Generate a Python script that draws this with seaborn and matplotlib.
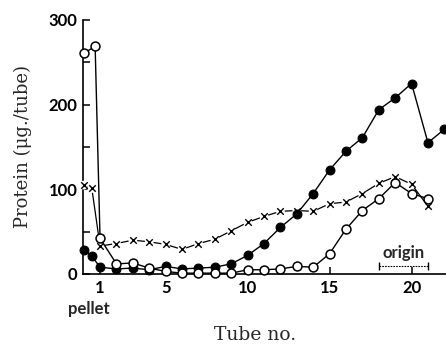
import matplotlib
matplotlib.use("Agg")
import matplotlib.pyplot as plt
import seaborn as sns
import pandas as pd
from matplotlib.ticker import MultipleLocator

# ---- data ----
filled_tube = [0, 0.5, 1, 2, 3, 4, 5, 6, 7, 8, 9, 10, 11, 12, 13, 14, 15, 16, 17, 18, 19, 20, 21, 22]
filled_protein = [28, 21, 8, 6, 7, 5, 9, 6, 7, 8, 12, 22, 36, 55, 71, 95, 123, 145, 161, 194, 208, 225, 155, 171]

open_tube = [0.05, 0.7, 1, 2, 3, 4, 5, 6, 7, 8, 9, 10, 11, 12, 13, 14, 15, 16, 17, 18, 19, 20, 21]
open_protein = [261, 269, 42, 12, 13, 7, 3, 1, 1, 1, 1, 5, 5, 6, 9, 8, 24, 53, 75, 89, 108, 95, 89]

cross_tube = [0, 0.5, 1, 2, 3, 4, 5, 6, 7, 8, 9, 10, 11, 12, 13, 14, 15, 16, 17, 18, 19, 20, 21]
cross_protein = [105, 101, 33, 36, 40, 38, 35, 29, 36, 41, 51, 61, 68, 74, 75, 74, 83, 85, 95, 107, 115, 106, 80]

x_ticks = [1, 5, 10, 15, 20]
y_ticks = [0, 100, 200, 300]
origin_span = [18, 21]
origin_level = [9.4, 9.4]

sns.set_style("ticks")
plt.rcParams['font.family'] = ['Lato', 'DejaVu Sans']

fig = plt.figure(figsize=(4.46, 3.5), dpi=100)
ax = fig.add_axes([83 / 446, 76 / 350, 363 / 446, 254 / 350])

filled_df = pd.DataFrame({"tube": filled_tube, "protein": filled_protein})
open_df = pd.DataFrame({"tube": open_tube, "protein": open_protein})
cross_df = pd.DataFrame({"tube": cross_tube, "protein": cross_protein})

# crosses: line, white gaps, x markers
sns.lineplot(data=cross_df, x="tube", y="protein", ax=ax, sort=False, estimator=None,
             color="black", lw=0.9, clip_on=False, zorder=2)
sns.scatterplot(data=cross_df, x="tube", y="protein", ax=ax, color="white", s=40,
                edgecolor="none", clip_on=False, zorder=3)
sns.scatterplot(data=cross_df, x="tube", y="protein", ax=ax, color="black", marker="x",
                s=22, linewidth=1.0, clip_on=False, zorder=4)

# filled circles
sns.lineplot(data=filled_df, x="tube", y="protein", ax=ax, sort=False, estimator=None,
             color="black", lw=1.0, marker="o", markersize=6.4, markerfacecolor="black",
             markeredgecolor="black", clip_on=False, zorder=5)

# open circles
sns.lineplot(data=open_df, x="tube", y="protein", ax=ax, sort=False, estimator=None,
             color="black", lw=1.0, marker="o", markersize=6.4, markerfacecolor="white",
             markeredgecolor="black", markeredgewidth=1.1, clip_on=False, zorder=6)

# origin bracket
ax.plot(origin_span, origin_level, color="black", lw=0.8, linestyle=(0, (1.5, 1.0)),
        marker="|", markersize=6, markeredgewidth=1.0, clip_on=False, zorder=2)
ax.text(sum(origin_span) / 2, 15.5, "origin", ha="center", va="bottom",
        fontsize=12, fontweight="bold")

ax.set_xlim(-0.04, 22.1)
ax.set_ylim(0, 300)
ax.set_xticks(x_ticks)
ax.set_yticks(y_ticks)
ax.yaxis.set_minor_locator(MultipleLocator(50))

for side in ["top", "right"]:
    ax.spines[side].set_visible(False)
for side in ["left", "bottom"]:
    ax.spines[side].set_linewidth(1.2)
    ax.spines[side].set_color("black")

ax.tick_params(axis="both", which="both", direction="in", length=5, width=1.1,
               colors="black", bottom=True, left=True)
ax.tick_params(axis="x", which="major", pad=4, labelsize=12)
ax.tick_params(axis="y", which="major", pad=4, labelsize=12)
for lab in ax.get_xticklabels() + ax.get_yticklabels():
    lab.set_fontweight("bold")

ax.text(0.33, -0.138, "pellet", transform=ax.get_xaxis_transform(), ha="center",
        va="center", fontsize=12, fontweight="bold")

ax.set_xlabel("Tube no.", fontfamily="DejaVu Serif", fontsize=13.5)
ax.xaxis.label.set_va("baseline")
ax.xaxis.set_label_coords(0.475, -0.26)
ax.set_ylabel("Protein (μg./tube)", fontfamily="DejaVu Serif", fontsize=13)
ax.yaxis.set_label_coords(-0.1405, 0.5)

fig.savefig("out.png", dpi=100)
